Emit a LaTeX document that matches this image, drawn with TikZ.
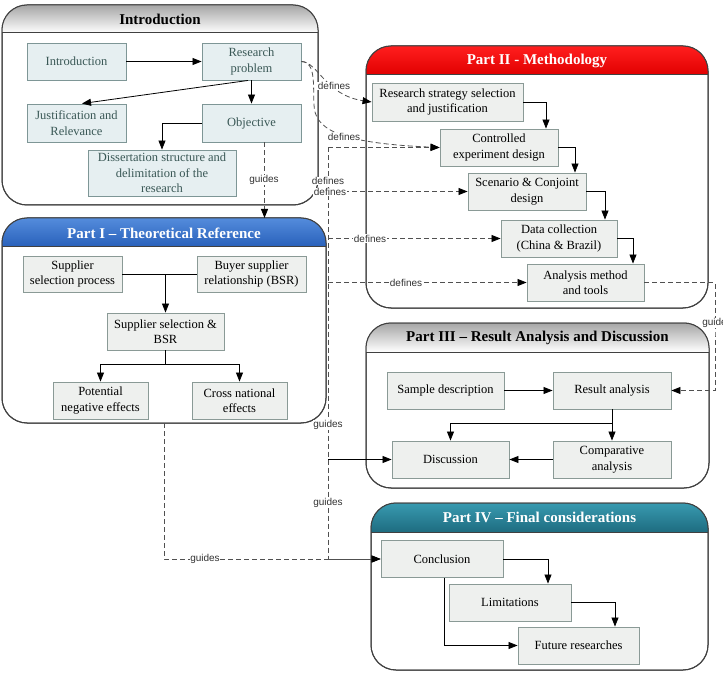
\documentclass[tikz,border=0pt]{standalone}
\usepackage{fontspec}
\setmainfont{Liberation Serif}
\setsansfont{Liberation Sans}
\usetikzlibrary{arrows.meta}
\definecolor{boxfill}{HTML}{EEF0EE}
\definecolor{boxline}{HTML}{8A9A96}
\definecolor{ibfill}{HTML}{E6EFF1}
\definecolor{ibline}{HTML}{7E9696}
\definecolor{ibtext}{HTML}{3A5856}
\definecolor{frame}{HTML}{404040}
\definecolor{conn}{HTML}{505050}
\tikzset{
  box/.style={draw=boxline, fill=boxfill, line width=0.9pt, minimum height=37pt, align=center, inner sep=1pt, font=\fontsize{12.5}{15.5}\selectfont},
  ibox/.style={box, draw=ibline, fill=ibfill, text=ibtext},
  cont/.style={draw=frame, line width=1pt, rounded corners=25pt, fill=white, inner sep=0pt, outer sep=0pt},
  rim/.style={draw=frame, line width=1pt, rounded corners=25pt},
  ttl/.style={font=\bfseries\fontsize{15}{18}\selectfont, inner sep=0pt},
  tip/.style={-{Triangle[length=9pt,width=7pt,color=black]}},
  arr/.style={draw=black, line width=0.8pt, tip},
  plain/.style={draw=black, line width=0.8pt},
  dline/.style={draw=conn, line width=0.8pt, dash pattern=on 5pt off 3pt},
  darr/.style={dline, tip},
  lbl/.style={font=\sffamily\fontsize{10}{12}\selectfont, text=black!80, fill=white, inner sep=0.5pt},
}
\begin{document}
\begin{tikzpicture}[x=1pt,y=-1pt]
\useasboundingbox (0,0) rectangle (723,679);
% ---------- containers ----------
% Introduction
\node[cont, minimum width=316pt, minimum height=200pt] (c0) at (160,105) {};
\begin{scope}
\clip[rounded corners=25pt] (c0.north west) rectangle (c0.south east);
\shade[top color=black!35, bottom color=white] (c0.north west) rectangle ([yshift=-28pt]c0.north east);
\end{scope}
\draw[draw=frame, line width=1pt] ([yshift=-28pt]c0.north west) -- ([yshift=-28pt]c0.north east);
\draw[rim] (c0.north west) rectangle (c0.south east);
\node[ttl] (t0) at ([yshift=-14pt]c0.north) {Introduction};
% Part I
\node[cont, minimum width=324pt, minimum height=205pt] (p1) at (164,320.5) {};
\begin{scope}
\clip[rounded corners=25pt] (p1.north west) rectangle (p1.south east);
\shade[top color={rgb,255:red,84;green,140;blue,220}, bottom color={rgb,255:red,40;green,96;blue,186}] (p1.north west) rectangle ([yshift=-29pt]p1.north east);
\end{scope}
\draw[draw=frame, line width=1pt] ([yshift=-29pt]p1.north west) -- ([yshift=-29pt]p1.north east);
\draw[rim] (p1.north west) rectangle (p1.south east);
\node[ttl, text=white] (t1) at ([yshift=-15pt]p1.north) {Part I – Theoretical Reference};
% Part II
\node[cont, minimum width=342pt, minimum height=262pt] (p2) at (537,177) {};
\begin{scope}
\clip[rounded corners=25pt] (p2.north west) rectangle (p2.south east);
\shade[top color={rgb,255:red,255;green,30;blue,30}, bottom color={rgb,255:red,225;green,0;blue,0}] (p2.north west) rectangle ([yshift=-29pt]p2.north east);
\end{scope}
\draw[draw=frame, line width=1pt] ([yshift=-29pt]p2.north west) -- ([yshift=-29pt]p2.north east);
\draw[rim] (p2.north west) rectangle (p2.south east);
\node[ttl, text=white] (t2) at ([yshift=-14.5pt]p2.north) {Part II - Methodology};
% Part III
\node[cont, minimum width=343pt, minimum height=165pt] (p3) at (537.5,405.5) {};
\begin{scope}
\clip[rounded corners=25pt] (p3.north west) rectangle (p3.south east);
\shade[top color=black!35, bottom color=white] (p3.north west) rectangle ([yshift=-29pt]p3.north east);
\end{scope}
\draw[draw=frame, line width=1pt] ([yshift=-29pt]p3.north west) -- ([yshift=-29pt]p3.north east);
\draw[rim] (p3.north west) rectangle (p3.south east);
\node[ttl] (t3) at ([yshift=-15pt]p3.north) {Part III – Result Analysis and Discussion};
% Part IV
\node[cont, minimum width=337pt, minimum height=167pt] (p4) at (539.5,586.5) {};
\begin{scope}
\clip[rounded corners=25pt] (p4.north west) rectangle (p4.south east);
\shade[top color={rgb,255:red,56;green,154;blue,176}, bottom color={rgb,255:red,30;green,108;blue,128}] (p4.north west) rectangle ([yshift=-29pt]p4.north east);
\end{scope}
\draw[draw=frame, line width=1pt] ([yshift=-29pt]p4.north west) -- ([yshift=-29pt]p4.north east);
\draw[rim] (p4.north west) rectangle (p4.south east);
\node[ttl, text=white] (t4) at ([yshift=-14.5pt]p4.north) {Part IV – Final considerations};
% ---------- boxes ----------
% Introduction
\node[ibox, minimum width=99pt] (intro) at (76.5,61.5) {Introduction};
\node[ibox, minimum width=99pt] (rp) at (251.5,61.5) {Research\\problem};
\node[ibox, minimum width=99pt, minimum height=38pt] (just) at (76.5,123) {Justification and\\Relevance};
\node[ibox, minimum width=99pt, minimum height=38pt] (obj) at (251.5,123) {Objective};
\node[ibox, minimum width=148pt, minimum height=46pt] (diss) at (162,173) {Dissertation structure and\\delimitation of the\\research};
% Part I
\node[box, minimum width=99pt, minimum height=36pt] (ssp) at (72.5,274) {Supplier\\selection process};
\node[box, minimum width=109pt, minimum height=36pt] (bsr) at (251.5,274) {Buyer supplier\\relationship (BSR)};
\node[box, minimum width=117pt] (ssb) at (165.5,331.5) {Supplier selection \&\\BSR};
\node[box, minimum width=95pt] (pne) at (100.5,400.5) {Potential\\negative effects};
\node[box, minimum width=95pt] (cne) at (239.5,400.5) {Cross national\\effects};
% Part II
\node[box, minimum width=151pt, minimum height=38pt] (rs) at (447.5,102) {Research strategy selection\\and justification};
\node[box, minimum width=118pt] (ced) at (499,147.5) {Controlled\\experiment design};
\node[box, minimum width=118pt] (scd) at (527,191.5) {Scenario \& Conjoint\\design};
\node[box, minimum width=116pt] (dc) at (559,238.5) {Data collection\\(China \& Brazil)};
\node[box, minimum width=117pt] (amt) at (585.5,282.5) {Analysis method\\and tools};
% Part III
\node[box, minimum width=117pt] (sd) at (445.5,390.5) {Sample description};
\node[box, minimum width=118pt] (ra) at (612,390.5) {Result analysis};
\node[box, minimum width=117pt] (disc) at (450.5,459.5) {Discussion};
\node[box, minimum width=118pt] (ca) at (612,459.5) {Comparative\\analysis};
% Part IV
\node[box, minimum width=122pt] (conc) at (442,559) {Conclusion};
\node[box, minimum width=122pt] (lim) at (510,602.5) {Limitations};
\node[box, minimum width=121pt] (fr) at (578.5,645.5) {Future researches};
% ---------- solid connectors ----------
\draw[arr] (intro) -- (rp);
\draw[arr] (rp.south) -- (obj.north);
\draw[arr] ([xshift=-3.5pt]rp.south) -- ([xshift=5.5pt]just.north);
\draw[arr] (obj.west) -| (diss.north);
\draw[plain] (ssp.east) -- (bsr.west);
\draw[arr] (ssb.north |- ssp.east) -- (ssb.north);
\draw[arr] (ssb.south) -- ++(0,14) -| (pne.north);
\draw[arr] (ssb.south) -- ++(0,14) -| (cne.north);
\draw[arr] (rs.east) -| ([xshift=47pt]ced.north);
\draw[arr] (ced.east) -| ([xshift=48pt]scd.north);
\draw[arr] (scd.east) -| ([xshift=46pt]dc.north);
\draw[arr] (dc.east) -| ([xshift=47.5pt]amt.north);
\draw[arr] (sd) -- (ra);
\draw[arr] (ra.south) -- (ca.north);
\draw[arr] (ra.south) -- ++(0,14) -| (disc.north);
\draw[arr] (ca) -- (disc);
\draw[arr] (conc.east) -| ([xshift=38pt]lim.north);
\draw[arr] (lim.east) -| ([xshift=36.5pt]fr.north);
\draw[arr] ([xshift=2pt]conc.south) |- (fr.west);
% ---------- dashed connectors ----------
\coordinate (bt) at (328,147.5);
\draw[darr] ([xshift=13pt]obj.south) -- ([xshift=13pt]obj.south |- p1.north);
\node[lbl] (g0) at (264,180) {guides};
\draw[darr] (rp.east) .. controls (318,62) and (325,95) .. (rs.west);
\draw[darr] (rp.east) .. controls (316,62) and (313,85) .. (314,105) .. controls (315,128) and (335,143) .. (ced.west);
\node[lbl] (d1) at (334,86) {defines};
\node[lbl] (d2) at (344,137) {defines};
\draw[dline] (bt) -- (bt |- conc.west);
\draw[darr] (bt) -- (ced.west);
\draw[darr] (bt |- scd.west) -- (scd.west);
\draw[darr] (bt |- dc.west) -- (dc.west);
\draw[darr] (bt |- amt.west) -- (amt.west);
\draw[arr] (bt |- disc.west) -- (disc.west);
\draw[darr] (bt |- conc.west) -- (conc.west);
\draw[darr] (p1.south) |- (conc.west);
\coordinate (rg) at (715,336);
\draw[darr] (amt.east) -| (rg) |- (ra.east);
% labels
\node[lbl] (d3) at (328,181) {defines};
\node[lbl] (d4) at (330,192) {defines};
\node[lbl] (d5) at (370,238.5) {defines};
\node[lbl] (d6) at (406,282.5) {defines};
\node[lbl] (g1) at (328,425) {guides};
\node[lbl] (g2) at (328,503) {guides};
\node[lbl] (g3) at (205,559) {guides};
\node[lbl] (g4) at (717,323) {guides};
\end{tikzpicture}
\end{document}
